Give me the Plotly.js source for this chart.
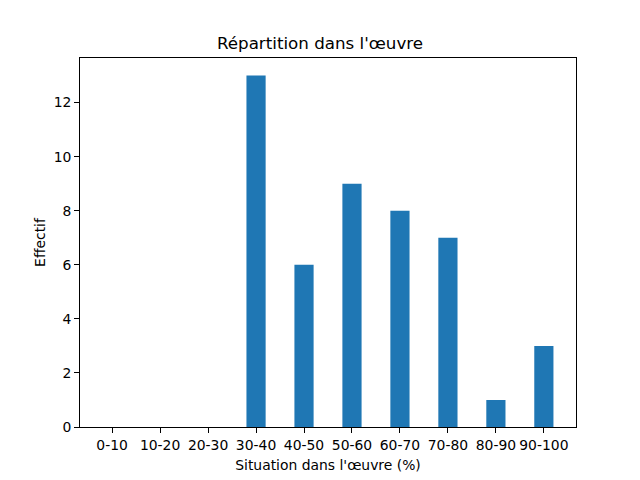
<!DOCTYPE html>
<html><head><meta charset="utf-8">
<script src="https://cdn.plot.ly/plotly-3.0.1.min.js"></script>
<style>body{margin:0;padding:0;background:#fff}#chart{width:640px;height:480px}</style>
</head><body><div id="chart"></div>
<script>
const categories = ["0-10","10-20","20-30","30-40","40-50","50-60","60-70","70-80","80-90","90-100"];
const counts = [0,0,0,13,6,9,8,7,1,3];
const positions = categories.map((c,i)=>i);

const trace = {
  type: 'bar', x: positions, y: counts, width: 0.4,
  marker: {color: '#1f77b4', line: {width: 0}},
  hoverinfo: 'none'
};
const font = {family: 'DejaVu Sans', size: 13.9, color: '#000'};
const layout = {
  width: 640, height: 480,
  margin: {l: 80, r: 64, t: 57.6, b: 52.8, pad: 0},
  paper_bgcolor: '#fff', plot_bgcolor: '#fff',
  font: font,
  showlegend: false,
  title: {text: "Répartition dans l'œuvre", font: {family: 'DejaVu Sans', size: 16.7, color: '#000'}, x: 0.5, xanchor: 'center', y: 1 - 43/480, yanchor: 'middle'},
  xaxis: {
    range: [-0.67, 9.67], tickmode: 'array', tickvals: positions, ticktext: categories,
    showgrid: false, zeroline: false, showline: true, linecolor: '#000', linewidth: 1, mirror: true,
    ticks: 'outside', ticklen: 4.9, tickwidth: 1, tickcolor: '#000',
    tickfont: font,
    title: {text: "Situation dans l'œuvre (%)", font: font, standoff: 8}
  },
  yaxis: {
    range: [0, 13.65], tickmode: 'array', tickvals: [0,2,4,6,8,10,12],
    showgrid: false, zeroline: false, showline: true, linecolor: '#000', linewidth: 1, mirror: true,
    ticks: 'outside', ticklen: 4.9, tickwidth: 1, tickcolor: '#000',
    tickfont: font,
    title: {text: 'Effectif', font: font, standoff: 4}
  }
};
Plotly.newPlot('chart', [trace], layout, {displayModeBar: false, staticPlot: true});
</script></body></html>
